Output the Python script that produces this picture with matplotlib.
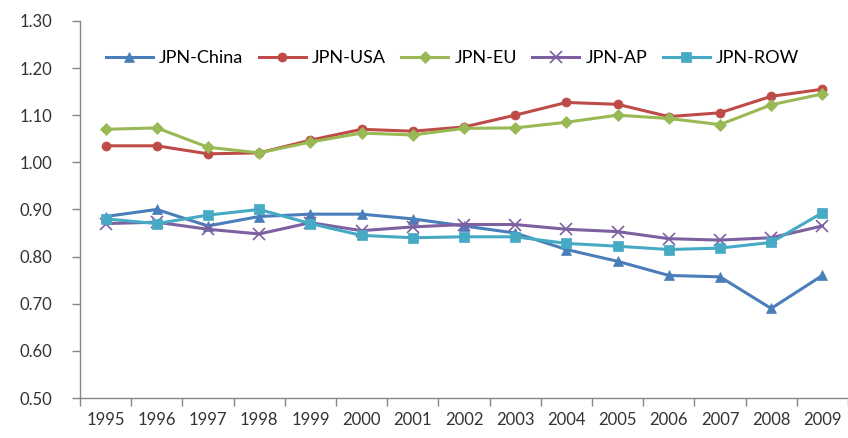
import matplotlib
matplotlib.use("Agg")
import matplotlib.pyplot as plt
import numpy as np

years = [str(y) for y in range(1995, 2010)]

jpn_china = [0.885, 0.900, 0.865, 0.885, 0.890, 0.890, 0.880, 0.865, 0.850, 0.815, 0.790, 0.760, 0.757, 0.690, 0.760]
jpn_usa   = [1.035, 1.035, 1.018, 1.020, 1.047, 1.070, 1.066, 1.075, 1.100, 1.127, 1.123, 1.097, 1.105, 1.140, 1.155]
jpn_eu    = [1.070, 1.073, 1.032, 1.020, 1.043, 1.062, 1.058, 1.072, 1.073, 1.085, 1.100, 1.093, 1.080, 1.122, 1.145]
jpn_ap    = [0.870, 0.873, 0.858, 0.848, 0.872, 0.855, 0.863, 0.868, 0.868, 0.858, 0.853, 0.838, 0.835, 0.840, 0.865]
jpn_row   = [0.880, 0.870, 0.888, 0.900, 0.870, 0.845, 0.840, 0.842, 0.842, 0.828, 0.822, 0.815, 0.818, 0.830, 0.893]

series = [
    ("JPN-China", jpn_china, "#4A7EBB", "^"),
    ("JPN-USA",   jpn_usa,   "#BE4B48", "o"),
    ("JPN-EU",    jpn_eu,    "#98B954", "D"),
    ("JPN-AP",    jpn_ap,    "#7D60A0", "x"),
    ("JPN-ROW",   jpn_row,   "#46AAC5", "s"),
]

plt.rcParams["font.family"] = ["Lato", "DejaVu Sans"]

fig = plt.figure(figsize=(8.48, 4.38), dpi=100)
ax = fig.add_axes([0.0943, 0.0913, 0.9057, 0.861])

x = np.arange(len(years))
for name, vals, color, marker in series:
    ms = 8 if marker == "x" else 6.5
    ax.plot(x, vals, color=color, marker=marker, markersize=ms, linewidth=2.2,
            markeredgewidth=1.2 if marker == "x" else 0.5, label=name)

ax.set_xlim(-0.5, len(years) - 0.5)
ax.set_ylim(0.5, 1.3)
ax.set_yticks(np.arange(0.5, 1.31, 0.1))
ax.set_yticklabels([f"{v:.2f}" for v in np.arange(0.5, 1.31, 0.1)])
ax.set_xticks(x)
ax.set_xticklabels(years)
ax.set_xticks(np.arange(-0.5, len(years), 1), minor=True)
ax.tick_params(axis="x", which="major", length=0, labelsize=12, pad=10, colors="#333333")
ax.tick_params(axis="x", which="minor", length=6, width=1, color="#868686")
ax.tick_params(axis="y", length=6, width=1, color="#868686", labelsize=12, pad=14, labelcolor="#333333")

for side in ["top", "right"]:
    ax.spines[side].set_visible(False)
for side in ["left", "bottom"]:
    ax.spines[side].set_color("#868686")
    ax.spines[side].set_linewidth(1)

ax.legend(loc="upper center", bbox_to_anchor=(0.485, 0.965), ncol=5, frameon=False,
          fontsize=13, handlelength=2.6, columnspacing=0.85, handletextpad=0.35)

fig.savefig("out.png", dpi=100)
